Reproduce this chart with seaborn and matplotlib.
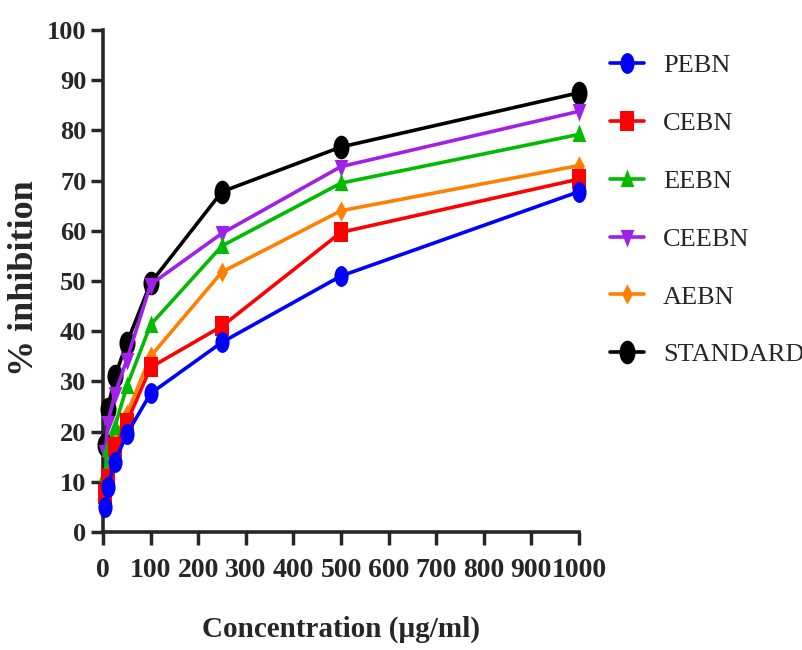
import matplotlib
matplotlib.use("Agg")
import matplotlib.pyplot as plt
import seaborn as sns
import pandas as pd
from matplotlib.path import Path
from matplotlib.transforms import Affine2D

# ---- data ----
concentration = [5, 10, 25, 50, 100, 250, 500, 1000]
PEBN = [5.0, 9.0, 14.0, 19.5, 27.6, 37.8, 51.0, 67.8]
CEBN = [7.5, 10.5, 17.0, 21.8, 32.8, 41.0, 59.7, 70.3]
EEBN = [11.5, 16.5, 21.0, 29.0, 41.3, 57.0, 69.5, 79.2]
CEEBN = [16.0, 21.8, 27.5, 34.3, 49.3, 59.5, 72.8, 83.8]
AEBN = [8.5, 12.5, 18.5, 23.5, 35.0, 51.8, 64.0, 73.0]
STANDARD = [17.3, 24.5, 31.0, 37.6, 49.6, 67.8, 76.7, 87.5]
series_names = ["PEBN", "CEBN", "EEBN", "CEEBN", "AEBN", "STANDARD"]
series_values = [PEBN, CEBN, EEBN, CEEBN, AEBN, STANDARD]
colors = ["#0000FF", "#FF0000", "#00BB00", "#A020E8", "#FF8000", "#000000"]
x_ticks = list(range(0, 1001, 100))
y_ticks = list(range(0, 101, 10))

# ---- condensed marker shapes (reference is squeezed horizontally) ----
squeeze = Affine2D().scale(0.68, 1.0)
def squeezed(path):
    return squeeze.transform_path(path)
circle = squeezed(Path.unit_circle())
square = squeezed(Path([(-1, -1), (1, -1), (1, 1), (-1, 1), (-1, -1)], closed=True))
tri_up = squeezed(Path([(0, 1), (-1, -0.75), (1, -0.75), (0, 1)], closed=True))
tri_down = squeezed(Path([(0, -1), (-1, 0.75), (1, 0.75), (0, -1)], closed=True))
diamond = squeezed(Path([(0, 1), (-0.8, 0), (0, -1), (0.8, 0), (0, 1)], closed=True))
markers = [circle, square, tri_up, tri_down, diamond, circle]
msizes = [15, 14.5, 14.5, 14.5, 14.5, 17]

rows = []
for name, vals in zip(series_names, series_values):
    for xv, yv in zip(concentration, vals):
        rows.append({"Concentration": xv, "Inhibition": yv, "Series": name})
df = pd.DataFrame(rows)

sns.set_style("ticks")
plt.rcParams["font.family"] = ["Liberation Serif", "DejaVu Serif"]

fig = plt.figure(figsize=(8.03, 6.5), dpi=100)
ax = fig.add_axes([103 / 803, 1 - 532 / 650, 476 / 803, 502 / 650])

for i in reversed(range(len(series_names))):
    name = series_names[i]
    sub = df[df["Series"] == name]
    sns.lineplot(data=sub, x="Concentration", y="Inhibition", ax=ax,
                 color=colors[i], marker=markers[i], markersize=msizes[i],
                 markeredgewidth=0, linewidth=2.6, label=name, clip_on=False,
                 zorder=3 + (len(series_names) - i))
h, l = ax.get_legend_handles_labels()
hmap = dict(zip(l, h))
ax.get_legend().remove()

ax.set_xlim(0, 1000)
ax.set_ylim(0, 100)
ax.set_xticks(x_ticks)
ax.set_yticks(y_ticks)
ax.set_xticklabels([str(t) for t in x_ticks], fontsize=20, fontweight="bold")
ax.set_yticklabels([str(t) for t in y_ticks], fontsize=19, fontweight="bold")
ax.tick_params(axis="both", length=9, width=2.5, direction="out")
ax.tick_params(axis="x", pad=10)
ax.tick_params(axis="y", pad=3)
for s in ["top", "right"]:
    ax.spines[s].set_visible(False)
for s in ["left", "bottom"]:
    ax.spines[s].set_linewidth(2.6)

ax.set_xlabel("Concentration (µg/ml)", fontsize=21, fontweight="bold")
ax.xaxis.set_label_coords(0.5, -0.166)
ax.set_ylabel("% inhibition", fontsize=26, fontweight="bold")
ax.yaxis.set_label_coords(-0.13, 0.505)

fig.legend([hmap[n] for n in series_names], series_names,
           loc="upper left", bbox_to_anchor=(610 / 803, 1 - 54 / 650),
           frameon=False, fontsize=19, handlelength=1.3, handletextpad=0.7,
           labelspacing=1.3, borderpad=0, borderaxespad=0)

fig.savefig("out.png", dpi=100)
